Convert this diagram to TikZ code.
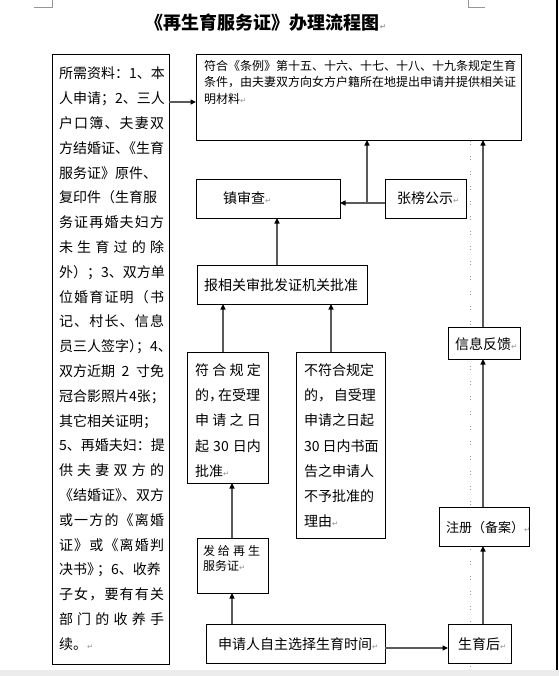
\documentclass[tikz,border=0pt]{standalone}
\usepackage{fontspec}
\setmainfont{Noto Sans CJK SC}
\newfontfamily\dvfont{DejaVu Sans}
\usetikzlibrary{arrows.meta,fit}
\definecolor{arrc}{RGB}{90,90,90}
\definecolor{markc}{RGB}{150,150,150}
\definecolor{bandc}{RGB}{236,236,236}
\newcommand\fsz[2]{\fontsize{#1bp}{#2bp}\selectfont}
\newcommand\rmk{{\dvfont\fontsize{7.5bp}{8bp}\selectfont\textcolor{markc}{↵}}}
\makeatletter
\def\sprd@end{\sprd@end}
\newcommand\sprd[2]{\makebox[#1][s]{\sprd@a#2\sprd@end}}
\def\sprd@a#1{#1\sprd@b}
\def\sprd@b#1{\ifx\sprd@end#1\else\hfil#1\expandafter\sprd@b\fi}
\makeatother
\tikzset{
  boxst/.style={draw=black, fill=white, line width=0.9bp, inner sep=0pt, outer sep=0pt},
  tf/.style={inner sep=0pt, outer sep=0pt, anchor=base west, font=\fsz{14}{14}},
  tw/.style={inner sep=0pt, outer sep=0pt, anchor=base west, font=\fsz{12}{12}},
  arr/.style={draw=arrc, line width=1.3bp, -{Triangle[width=5bp,length=5.5bp,color=black]}},
  dotst/.style={draw=markc, line width=1bp, dash pattern=on 1bp off 2bp on 1.2bp off 10.8bp},
}
\begin{document}
\begin{tikzpicture}[x=1bp,y=-1bp]
\useasboundingbox (0,0) rectangle (559,676);
% page decorations
\fill[bandc] (0,670) rectangle (559,676);
\draw[line width=1.6bp, black] (557,0) -- (557,670);
\draw[markc, line width=0.8bp] (34,7) -- (52,7) -- (52,0);
\draw[markc, line width=0.8bp] (468,0) -- (468,7) -- (485,7);
\draw[dotst] (470,141) -- (470,669);
% title
\node[inner sep=0pt, anchor=base, font=\fsz{18}{18}\bfseries] (title) at (266,29.5) {《再生育服务证》办理流程图\rmk};
% boxes
\node[boxst, fit={(196,54) (521,140)}] (T) {};
\node[boxst, fit={(52,54) (169,664)}] (L) {};
\node[boxst, fit={(196,179) (340,218)}] (Z) {};
\node[boxst, fit={(385,179) (466,218)}] (B) {};
\node[boxst, fit={(197,265) (367,304)}] (R) {};
\node[boxst, fit={(187,352) (268,483)}] (F) {};
\node[boxst, fit={(296,352) (385,538)}] (N) {};
\node[boxst, fit={(197,538) (268,593)}] (G) {};
\node[boxst, fit={(206,624) (385,663)}] (A) {};
\node[boxst, fit={(448,624) (511,663)}] (S) {};
\node[boxst, fit={(439,507) (529,546)}] (C) {};
\node[boxst, fit={(448,327) (520,359)}] (I) {};
% top box text
\node[tw] (t1) at (204,70.8) {符合《条例》第十五、十六、十七、十八、十九条规定生育};
\node[tw] (t2) at (204,86.8) {条件，由夫妻双方向女方户籍所在地提出申请并提供相关证};
\node[tw] (t3) at (204,103.5) {明材料\rmk};
% left box text
\foreach \t [count=\i from 0] in {
  {所需资料：1、本},
  {人申请；2、三人},
  {\sprd{105bp}{户口簿、夫妻双}},
  {方结婚证、\kern-7bp《生育},
  {服务证》原件、},
  {复印件（生育服},
  {\sprd{105bp}{务证再婚夫妇方}},
  {\sprd{105bp}{未生育过的除}},
  {外）；3、双方单},
  {\sprd{105bp}{位婚育证明（书}},
  {\sprd{105bp}{记、村长、信息}},
  {员三人签字）\kern-7bp；4、},
  {\makebox[105bp][s]{双方近期 2 寸免}},
  {冠合影照片4张；},
  {其它相关证明；},
  {5、再婚夫妇：提},
  {\sprd{105bp}{供夫妻双方的}},
  {《结婚证》\kern-7bp、双方},
  {\sprd{105bp}{或一方的《离婚}},
  {\sprd{105bp}{证》或《离婚判}},
  {决书》\kern-4bp；6、收养},
  {\sprd{105bp}{子女，要有有关}},
  {\sprd{105bp}{部门的收养手}},
  {续。\rmk}}
  \node[tf] (lt\i) at (59,78.8+24.8*\i) {\t};
% other texts
\node[tf] (zt) at (223,203.3) {镇审查\rmk};
\node[tf] (bt) at (397,203.3) {张榜公示\rmk};
\node[tf] (rt) at (204,290.8) {报相关审批发证机关批准};
\node[tf] (f1) at (195,375.3) {\sprd{66bp}{符合规定}};
\node[tf] (f2) at (195,400.3) {的，\kern-5bp在受理};
\node[tf] (f3) at (195,425.3) {\sprd{66bp}{申请之日}};
\node[tf] (f4) at (195,451) {\makebox[66bp][s]{起 30 日内}};
\node[tf] (f5) at (195,476) {批准\rmk};
\node[tf] (n1) at (304,375.3) {不符合规定};
\node[tf] (n2) at (304,400.3) {\makebox[72bp][s]{的，\hfil 自受理}};
\node[tf] (n3) at (304,425.3) {申请之日起};
\node[tf] (n4) at (304,451) {30 日内书面};
\node[tf] (n5) at (304,476) {告之申请人};
\node[tf] (n6) at (304,501) {不予批准的};
\node[tf] (n7) at (304,526) {理由\rmk};
\node[tw] (g1) at (203,555.3) {\sprd{57bp}{发给再生}};
\node[tw] (g2) at (203,570.6) {服务证\rmk};
\node[tf] (at) at (218,649.3) {申请人自主选择生育时间\rmk};
\node[tf] (st) at (458,649.3) {生育后\rmk};
\node[tf, font=\fsz{13}{13}] (ct) at (446,532) {注册（备案）\rmk};
\node[tf] (it) at (455,349.3) {信息反馈\rmk};
% connectors
\coordinate (yLT) at (0,102);
\draw[arr] (L.east |- yLT) -- (T.west |- yLT);
\coordinate (j) at (367,203);
\draw[arr] (B.west |- j) -- (Z.east |- j);
\draw[arr] (j) -- (T.south -| j);
\coordinate (xr) at (483,0);
\draw[arr] (I.north -| xr) -- (T.south -| xr);
\draw[arr] (C.north -| xr) -- (I.south -| xr);
\draw[arr] (S.north -| xr) -- (C.south -| xr);
\coordinate (xz) at (277,0);
\draw[arr] (R.north -| xz) -- (Z.south -| xz);
\coordinate (xf) at (223,0);
\draw[arr] (F.north -| xf) -- (R.south -| xf);
\coordinate (xn) at (331,0);
\draw[arr] (N.north -| xn) -- (R.south -| xn);
\coordinate (xg) at (232,0);
\draw[arr] (G.north -| xg) -- (F.south -| xg);
\draw[arr] (A.north -| xg) -- (G.south -| xg);
\coordinate (ya) at (0,648);
\draw[arr] (A.east |- ya) -- (S.west |- ya);
\end{tikzpicture}
\end{document}
